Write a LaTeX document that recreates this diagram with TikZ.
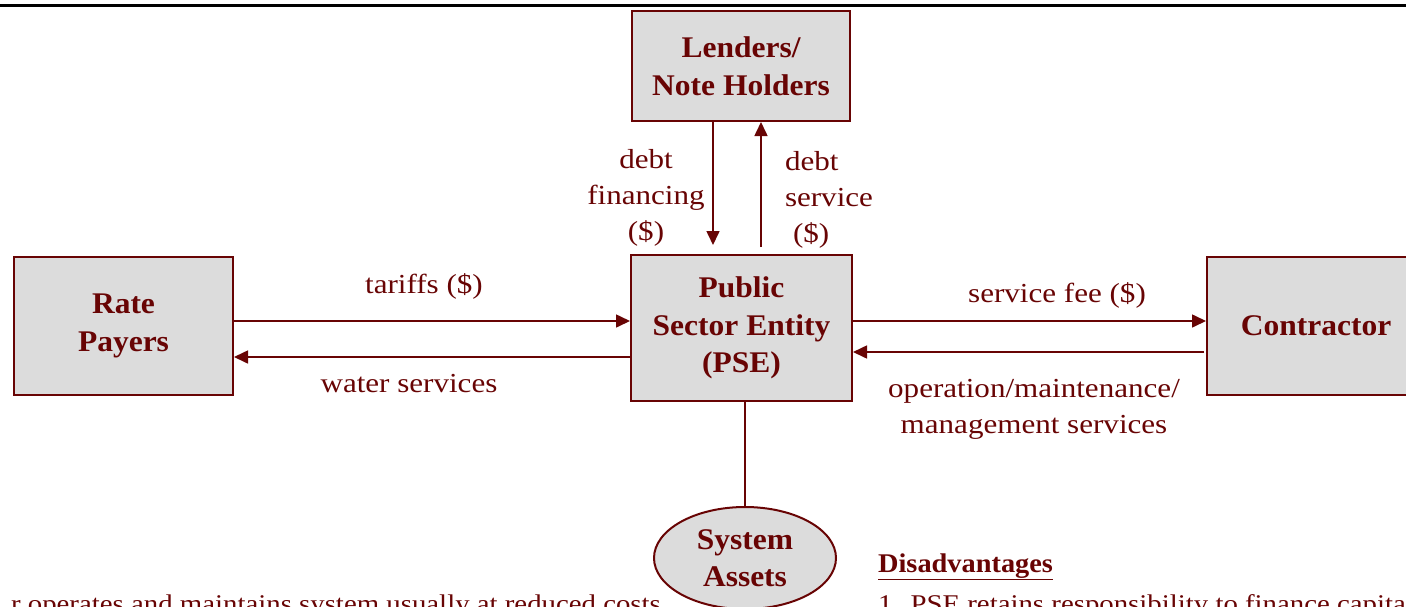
\documentclass[tikz,border=0pt]{standalone}
\usepackage{fontspec}
\setmainfont{Liberation Serif}[FakeStretch=1.13, BoldFeatures={FakeStretch=1.05}]
\usetikzlibrary{arrows.meta,shapes.geometric}

\definecolor{maroon}{RGB}{104,4,4}
\definecolor{boxgray}{RGB}{220,220,220}

\begin{document}
\begin{tikzpicture}[x=1pt, y=-1pt, line width=1.6pt, draw=maroon, text=maroon,
	font=\fontsize{27.5}{36}\selectfont,
	party/.style={draw=maroon, line width=2pt, fill=boxgray, align=center,
		font=\fontsize{30}{37.5}\selectfont\bfseries, inner sep=0pt},
	flow/.style={draw=maroon, -{Triangle[length=14pt,width=13pt]}},
	note/.style={font=\fontsize{25.5}{36}\selectfont}]
	\useasboundingbox (0,0) rectangle (1406,606);
	\clip (0,0) rectangle (1406,606);
	\draw[black, line width=3pt] (0,5)--(1406,5);
	% parties
	\node[party, minimum width=218pt, minimum height=110pt] (lend) at (741,66) {Lenders/\\Note Holders};
	\node[party, minimum width=221pt, minimum height=146pt] (pse) at (741.5,328) {Public\\Sector Entity\\(PSE)};
	\node[party, minimum width=219pt, minimum height=138pt] (rate) at (123.5,326) {Rate\\Payers};
	\node[party, minimum width=218pt, minimum height=138pt] (contr) at (1316,326) {Contractor};
	\node[party, ellipse, minimum width=182pt, minimum height=102pt] (assets) at (745,558) {System\\Assets};
	% loose arrow ends
	\coordinate (finend) at (713,245);
	\coordinate (servstart) at (761,247);
	\coordinate (omstart) at (1204,352);
	% flows
	\draw[flow] (lend.south -| finend) -- (finend);
	\draw[flow] (servstart) -- (lend.south -| servstart);
	\draw[flow] (rate.east |- 0,321) -- (pse.west |- 0,321);
	\draw[flow] (pse.west |- 0,357) -- (rate.east |- 0,357);
	\draw[flow] (pse.east |- 0,321) -- (contr.west |- 0,321);
	\draw[flow] (omstart) -- (pse.east |- omstart);
	\draw (pse.south -| assets.north) -- (assets.north);
	% labels
	\node[align=center] (lfin) at (646,198) {debt\\financing\\(\$)};
	\node[align=left] (lserv) at (829,200) {debt\\service\\\hspace*{8pt}(\$)};
	\node (ltar) at (424,286) {tariffs (\$)};
	\node (lwat) at (409,384) {water services};
	\node (lfee) at (1057,295) {service fee (\$)};
	\node[align=center] (lom) at (1034,409) {operation/maintenance/\\management services};
	% notes below
	\node[note, anchor=base east] (adv) at (665,612) {r operates and maintains system usually at reduced costs};
	\node[anchor=base west, font=\fontsize{27}{36}\selectfont\bfseries] (disadv) at (874,572) {\underline{Disadvantages}};
	\node[note, anchor=base west] (dis1) at (874,612) {1\hspace{18pt}PSE retains responsibility to finance capital};
\end{tikzpicture}
\end{document}
